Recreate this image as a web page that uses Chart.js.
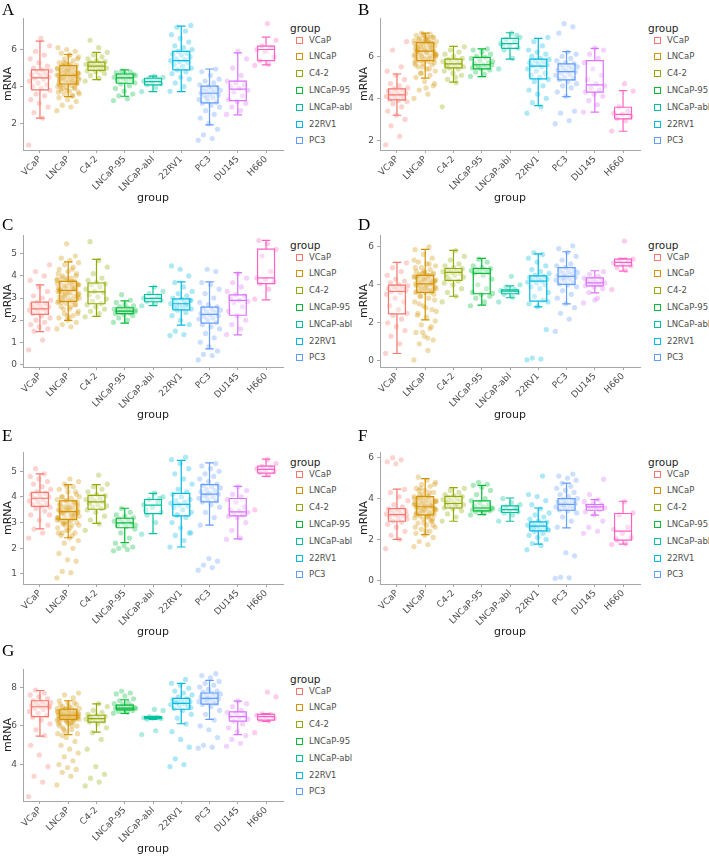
<!DOCTYPE html>
<html>
<head>
<meta charset="utf-8">
<script src="https://cdn.jsdelivr.net/npm/chart.js@4.4.0/dist/chart.umd.min.js"></script>
<style>
body{margin:0;background:#fff;width:709px;height:856px;position:relative;overflow:hidden;font-family:"DejaVu Sans",sans-serif}
.panel{position:absolute;width:354px;height:217px}
.panel canvas{position:absolute;left:0;top:0}
.letter{position:absolute;font-family:"Liberation Serif",serif;font-size:17px;line-height:1;color:#000}
.legend{position:absolute;top:0;left:0}
.legend .ttl{position:absolute;font-size:10.5px;color:#222;line-height:12px;white-space:nowrap}
.legend .item{position:absolute;font-size:8.5px;color:#4d4d4d;line-height:10px;white-space:nowrap}
.legend .sq{position:absolute;width:5px;height:5px;border:1px solid;background:#fff}
</style>
</head>
<body>
<script>
const groups = ["VCaP", "LNCaP", "C4-2", "LNCaP-95", "LNCaP-abl", "22RV1", "PC3", "DU145", "H660"];
const colors = ["#F8766D", "#D39200", "#93AA00", "#00BA38", "#00C19F", "#00B9E3", "#619CFF", "#DB72FB", "#FF61C3"];
const legendGroups = groups.slice(0, 7); // legend is cut off after PC3 in the original

// box stats per group: [lower whisker, q1, median, q3, upper whisker]
const boxA = [[2.3,3.82,4.47,4.9,6.45],[3.46,4.14,4.6,5.13,5.73],[4.38,4.87,5.1,5.32,5.85],[3.48,4.18,4.47,4.68,4.9],[3.73,4.09,4.27,4.45,4.56],[3.73,4.9,5.4,5.9,7.26],[1.93,3.12,3.64,4.02,4.95],[2.47,3.24,3.86,4.3,5.82],[5.17,5.4,6.0,6.18,6.67]];
const boxB = [[3.2,3.93,4.17,4.45,5.16],[4.96,5.8,6.25,6.65,7.1],[4.77,5.45,5.64,5.87,6.47],[5.04,5.4,5.6,5.95,6.35],[5.87,6.38,6.6,6.85,7.12],[3.66,4.93,5.53,5.87,6.85],[4.09,4.88,5.27,5.64,6.22],[3.35,4.3,4.64,5.8,6.38],[2.44,3.03,3.24,3.58,4.37]];
const boxC = [[1.48,2.26,2.51,2.81,3.59],[1.99,2.85,3.35,3.75,4.63],[2.17,2.74,3.28,3.68,4.75],[1.86,2.29,2.41,2.56,2.87],[2.66,2.83,2.98,3.16,3.52],[1.77,2.46,2.74,2.96,3.73],[0.7,1.86,2.26,2.59,3.73],[1.33,2.22,2.89,3.14,4.15],[2.92,3.65,3.91,5.21,5.61]];
const boxD = [[0.39,2.47,3.65,3.98,5.18],[2.16,3.6,4.05,4.5,5.86],[3.4,4.23,4.65,4.86,5.81],[2.93,3.53,4.6,4.86,5.39],[3.32,3.53,3.67,3.74,3.95],[2.84,3.14,4.19,4.47,5.63],[3.0,4.02,4.44,4.9,5.74],[3.58,3.95,4.1,4.37,4.74],[4.72,5.0,5.18,5.35,5.39]];
const boxE = [[2.76,3.63,3.95,4.18,4.9],[2.41,3.13,3.43,3.85,4.48],[2.97,3.52,3.81,4.06,4.48],[2.22,2.8,2.99,3.17,3.56],[2.57,3.35,3.68,3.9,4.14],[2.05,3.26,3.71,4.14,5.42],[2.9,3.81,4.11,4.48,5.33],[2.37,3.26,3.42,3.94,4.41],[4.8,4.93,5.07,5.2,5.47]];
const boxF = [[2.0,2.89,3.22,3.51,4.46],[2.24,3.2,3.6,4.1,4.98],[2.89,3.54,3.76,4.11,4.54],[3.22,3.4,3.54,3.89,4.65],[2.89,3.32,3.46,3.64,4.03],[1.77,2.42,2.65,2.86,3.54],[2.57,3.43,3.72,4.0,4.76],[3.19,3.43,3.59,3.71,3.95],[1.77,1.97,2.41,3.27,3.87]];
const boxG = [[5.47,6.48,6.99,7.3,7.83],[5.55,6.34,6.55,6.86,7.3],[5.68,6.2,6.38,6.55,7.14],[6.65,6.83,6.92,7.07,7.35],[6.33,6.38,6.43,6.48,6.5],[6.11,6.86,7.16,7.42,8.2],[6.34,7.13,7.42,7.7,8.35],[5.55,6.25,6.48,6.72,7.28],[6.23,6.3,6.48,6.6,6.63]];

// sample points (one list per group)
const ptsA = [
  [0.85,2.3,2.6,2.9,3.1,3.3,3.5,3.6,3.8,3.9,4.0,4.1,4.2,4.3,4.4,4.45,4.5,4.6,4.65,4.7,4.8,4.85,4.9,5.0,5.1,5.3,5.5,5.7,5.9,6.2,6.6],
  [2.7,2.9,3.0,3.2,3.3,3.4,3.5,3.6,3.7,3.75,3.8,3.9,3.95,4.0,4.05,4.1,4.15,4.2,4.25,4.3,4.35,4.4,4.45,4.5,4.55,4.6,4.62,4.65,4.7,4.75,4.8,4.85,4.9,4.95,5.0,5.05,5.1,5.15,5.2,5.3,5.4,5.5,5.6,5.7,5.8,5.9,6.0,6.1,4.3,4.5,4.7,4.9,4.4,4.6,4.8,3.6,5.2,3.9,4.2,5.0,
   4.15,4.25,4.35,4.45,4.55,4.65,4.75,4.85,4.95,5.05,5.12,4.2,4.3,4.4,4.5,4.6,4.7,4.8,4.9,5.0,3.8,3.7,3.5,5.3,5.5,5.7,4.05,3.95,5.25,4.62],
  [4.3,4.45,4.6,4.7,4.8,4.85,4.9,4.95,5.0,5.05,5.1,5.1,5.15,5.2,5.25,5.3,5.35,5.4,5.5,5.6,5.7,5.85,6.1,6.5],
  [3.25,3.35,3.5,3.6,3.75,3.9,4.05,4.15,4.2,4.3,4.35,4.4,4.45,4.5,4.55,4.6,4.65,4.7,4.75,4.8,4.85,4.6],
  [3.73,3.95,4.1,4.15,4.25,4.3,4.4,4.45,4.5,4.56],
  [3.75,4.0,4.2,4.4,4.5,4.7,4.8,4.9,5.0,5.1,5.2,5.3,5.35,5.4,5.45,5.5,5.6,5.7,5.75,5.8,5.9,6.0,6.1,6.2,6.4,6.6,6.8,7.0,7.2,7.3],
  [1.1,1.2,1.4,1.7,2.0,2.3,2.5,2.7,2.9,3.0,3.1,3.15,3.2,3.3,3.4,3.5,3.55,3.6,3.65,3.7,3.75,3.8,3.85,3.9,3.95,4.0,4.1,4.2,4.3,4.4,4.6,4.8,4.95,3.4],
  [2.5,2.7,2.9,3.1,3.2,3.3,3.5,3.7,3.8,3.9,4.0,4.1,4.2,4.3,4.6,5.0,5.5,5.9],
  [5.15,5.2,5.4,5.6,5.9,6.0,6.1,6.2,6.5,7.4]
];
const ptsB = [
  [1.8,2.2,2.7,3.0,3.2,3.4,3.6,3.75,3.85,3.9,3.95,4.0,4.05,4.1,4.15,4.2,4.25,4.3,4.35,4.4,4.45,4.5,4.6,4.7,4.9,5.1,5.3,5.5,6.3,6.7],
  [4.0,4.2,4.4,4.6,4.8,5.0,5.1,5.2,5.3,5.4,5.5,5.6,5.65,5.7,5.75,5.8,5.85,5.9,5.95,6.0,6.05,6.1,6.15,6.2,6.25,6.3,6.35,6.4,6.45,6.5,6.55,6.6,6.65,6.7,6.75,6.8,6.85,6.9,6.95,7.0,7.05,7.1,6.0,6.2,6.4,6.6,6.3,6.1,5.9,6.5,5.7,6.8,6.25,6.45,5.5,6.7,6.9,6.35,6.05,5.85,
   5.8,5.9,6.0,6.1,6.2,6.3,6.4,6.5,6.6,6.65,6.15,6.25,6.35,6.45,6.55,5.95,6.05,6.7,6.8,6.9,7.0,5.6,5.4,5.2,4.7,4.5,6.22,6.38,6.62,6.02],
  [3.6,4.75,4.9,5.1,5.2,5.3,5.4,5.45,5.5,5.55,5.6,5.65,5.7,5.75,5.8,5.85,5.9,6.0,6.1,6.2,6.3,6.45,5.0,5.6],
  [5.05,5.15,5.25,5.35,5.4,5.45,5.5,5.55,5.6,5.6,5.65,5.7,5.8,5.9,5.95,6.0,6.1,6.2,6.3,6.35,5.5,5.75],
  [5.4,5.9,6.3,6.4,6.5,6.6,6.7,6.8,6.9,7.1,6.55,7.0],
  [3.3,3.6,3.8,4.0,4.2,4.4,4.6,4.8,4.9,5.0,5.1,5.2,5.3,5.4,5.5,5.55,5.6,5.65,5.7,5.75,5.8,5.85,5.9,6.0,6.1,6.2,6.3,6.5,6.7,6.9],
  [2.8,2.95,3.3,3.4,4.1,4.3,4.5,4.6,4.7,4.8,4.9,4.95,5.0,5.1,5.15,5.2,5.25,5.3,5.35,5.4,5.45,5.5,5.55,5.6,5.65,5.7,5.8,5.9,6.0,6.1,6.2,7.1,7.4,7.55],
  [3.35,3.7,3.9,4.1,4.2,4.3,4.4,4.5,4.6,4.7,4.9,5.1,5.4,5.7,5.9,6.1,6.3,6.4],
  [2.45,2.95,3.05,3.15,3.25,3.3,3.4,3.6,4.35,4.7]
];
const ptsC = [
  [0.65,1.1,1.5,1.6,1.7,1.8,1.9,2.0,2.1,2.2,2.3,2.35,2.4,2.45,2.5,2.55,2.6,2.65,2.7,2.75,2.8,2.9,3.0,3.1,3.3,3.5,3.8,4.0,4.2,4.5],
  [1.6,1.7,1.8,1.9,2.0,2.1,2.2,2.3,2.4,2.5,2.6,2.7,2.75,2.8,2.85,2.9,2.95,3.0,3.05,3.1,3.15,3.2,3.25,3.3,3.35,3.4,3.45,3.5,3.55,3.6,3.65,3.7,3.75,3.8,3.85,3.9,4.0,4.1,4.2,4.3,4.4,4.5,4.6,4.7,4.8,4.9,5.45,3.3,3.5,3.1,3.6,2.9,3.4,3.7,3.2,3.0,2.6,3.9,4.0,2.2,
   2.85,2.95,3.05,3.15,3.25,3.35,3.45,3.55,3.65,3.75,3.0,3.1,3.2,3.3,3.4,3.5,3.6,3.7,2.8,2.7,3.9,4.1,4.3,2.5,2.3,2.1,3.35,3.45,3.25,3.8],
  [2.15,2.3,2.4,2.5,2.6,2.7,2.75,2.85,2.95,3.05,3.15,3.25,3.3,3.4,3.5,3.6,3.65,3.7,3.8,3.9,4.1,4.4,4.7,5.55],
  [1.9,2.0,2.1,2.2,2.25,2.3,2.32,2.35,2.38,2.4,2.42,2.45,2.48,2.5,2.55,2.6,2.65,2.7,2.8,2.9,3.15,2.45],
  [2.65,2.75,2.85,2.9,2.95,3.0,3.1,3.2,3.3,3.5],
  [1.3,1.35,1.5,1.8,2.0,2.2,2.35,2.45,2.5,2.55,2.6,2.65,2.7,2.75,2.8,2.85,2.9,2.95,3.0,3.1,3.2,3.3,3.5,3.7,4.0,4.3,4.45,2.7,2.6,2.9],
  [0.2,0.4,0.45,0.6,0.8,1.0,1.2,1.4,1.6,1.7,1.8,1.9,2.0,2.05,2.1,2.15,2.2,2.25,2.3,2.35,2.4,2.45,2.5,2.55,2.6,2.7,2.8,3.0,3.2,3.4,3.6,3.7,4.2,4.3],
  [1.35,1.6,1.8,2.0,2.2,2.4,2.6,2.8,2.85,2.9,3.0,3.1,3.15,3.3,3.5,3.7,3.9,4.1],
  [2.95,3.4,3.65,3.75,3.85,3.9,4.2,4.9,5.2,5.45,5.6]
];
const ptsD = [
  [0.4,0.9,1.3,1.6,1.8,2.0,2.2,2.4,2.5,2.7,2.9,3.1,3.3,3.5,3.6,3.65,3.7,3.75,3.8,3.85,3.9,3.95,4.0,4.1,4.2,4.3,4.5,4.7,4.9,5.15],
  [0.05,0.55,0.9,1.1,1.3,1.5,1.7,1.9,2.1,2.3,2.5,2.7,2.9,3.1,3.3,3.4,3.5,3.6,3.65,3.7,3.75,3.8,3.85,3.9,3.95,4.0,4.05,4.1,4.15,4.2,4.25,4.3,4.35,4.4,4.45,4.5,4.55,4.6,4.65,4.7,4.8,4.9,5.0,5.1,5.2,5.4,5.6,5.85,6.0,4.0,4.2,3.8,4.4,3.6,4.6,2.6,1.2,3.0,4.1,4.3,
   3.6,3.7,3.8,3.9,4.0,4.1,4.2,4.3,4.4,4.5,3.65,3.75,3.85,3.95,4.05,4.15,4.25,4.35,4.45,4.55,4.7,4.9,5.1,3.4,3.2,2.8,2.4,1.8,1.5,5.3],
  [3.1,3.4,3.6,3.8,4.0,4.1,4.2,4.3,4.4,4.5,4.55,4.6,4.65,4.7,4.75,4.8,4.85,4.9,5.0,5.1,5.3,5.5,5.8,4.4],
  [2.9,3.1,3.3,3.4,3.5,3.6,3.8,4.0,4.3,4.5,4.6,4.65,4.7,4.75,4.8,4.82,4.85,4.9,5.0,5.2,5.35,3.55],
  [3.1,3.35,3.5,3.6,3.65,3.7,3.75,3.9,4.0,4.45],
  [0.05,0.1,0.15,1.65,2.85,3.0,3.2,3.4,3.6,3.8,3.9,4.0,4.1,4.15,4.2,4.25,4.3,4.35,4.4,4.45,4.5,4.6,4.7,4.8,5.0,5.2,5.4,5.6,5.7,3.1],
  [1.55,2.2,2.5,2.8,3.0,3.3,3.5,3.7,3.9,4.0,4.05,4.1,4.2,4.25,4.3,4.35,4.4,4.45,4.5,4.55,4.6,4.65,4.7,4.75,4.8,4.9,5.0,5.1,5.3,5.5,5.7,5.9,6.05,4.4],
  [3.05,3.3,3.6,3.8,3.9,3.95,4.0,4.05,4.1,4.15,4.2,4.25,4.3,4.35,4.45,4.55,4.7,3.2],
  [3.75,4.75,4.9,5.0,5.1,5.15,5.2,5.3,5.35,6.3]
];
const ptsE = [
  [2.4,2.6,2.75,2.9,3.1,3.3,3.45,3.55,3.6,3.65,3.7,3.75,3.8,3.85,3.9,3.95,4.0,4.05,4.1,4.15,4.2,4.3,4.4,4.5,4.6,4.7,4.8,4.9,5.1,3.3],
  [0.85,1.05,1.1,1.5,1.55,1.8,2.0,2.2,2.3,2.4,2.5,2.6,2.7,2.8,2.9,2.95,3.0,3.05,3.1,3.15,3.2,3.25,3.3,3.35,3.4,3.45,3.5,3.55,3.6,3.65,3.7,3.75,3.8,3.85,3.9,3.95,4.0,4.1,4.2,4.3,4.4,4.5,4.6,4.7,3.4,3.3,3.5,3.2,3.6,3.0,3.8,2.7,3.45,3.35,2.9,4.0,3.1,2.6,3.7,3.55,
   3.15,3.25,3.35,3.45,3.55,3.65,3.75,3.85,3.2,3.3,3.4,3.5,3.6,3.7,3.8,3.0,2.9,2.8,4.0,4.2,4.4,2.6,2.5,3.42,3.38,3.48,3.52,3.28,3.62,3.1],
  [2.7,2.95,3.1,3.25,3.4,3.5,3.55,3.6,3.65,3.7,3.75,3.8,3.85,3.9,3.95,4.0,4.05,4.1,4.2,4.3,4.4,4.5,4.85,3.8],
  [1.9,1.95,2.0,2.05,2.1,2.2,2.4,2.6,2.75,2.85,2.9,2.95,3.0,3.05,3.1,3.15,3.2,3.25,3.3,3.4,3.55,2.9],
  [2.55,3.0,3.3,3.4,3.6,3.7,3.8,3.9,4.0,4.15,3.5,3.95],
  [2.05,2.3,2.5,2.6,2.8,3.0,3.2,3.3,3.4,3.5,3.6,3.65,3.7,3.75,3.8,3.85,3.9,4.0,4.1,4.2,4.3,4.5,4.7,4.9,5.1,5.3,5.45,5.55,3.3,2.6],
  [1.15,1.25,1.35,1.5,1.6,2.9,3.2,3.4,3.6,3.7,3.8,3.85,3.9,3.95,4.0,4.05,4.1,4.15,4.2,4.25,4.3,4.35,4.4,4.45,4.5,4.6,4.7,4.8,4.9,5.0,5.1,5.2,5.3,4.1],
  [2.35,2.4,2.7,3.0,3.2,3.25,3.3,3.35,3.4,3.45,3.5,3.6,3.8,3.9,4.0,4.1,4.25,4.4],
  [3.5,4.85,4.95,5.0,5.05,5.1,5.15,5.2,5.3,5.45]
];
const ptsF = [
  [1.55,2.0,2.2,2.4,2.6,2.75,2.85,2.9,3.0,3.05,3.1,3.15,3.2,3.25,3.3,3.35,3.4,3.45,3.5,3.6,3.7,3.9,4.1,4.3,4.45,5.7,5.8,5.9,6.0,3.2],
  [1.65,1.75,1.9,2.1,2.2,2.3,2.4,2.5,2.6,2.7,2.8,2.9,3.0,3.05,3.1,3.15,3.2,3.25,3.3,3.35,3.4,3.45,3.5,3.55,3.6,3.65,3.7,3.75,3.8,3.85,3.9,3.95,4.0,4.05,4.1,4.15,4.2,4.3,4.4,4.5,4.6,4.7,4.8,4.9,5.05,3.6,3.4,3.8,3.2,4.0,3.5,3.7,3.3,2.9,4.2,3.9,3.1,4.4,2.7,3.6,
   3.2,3.3,3.4,3.5,3.6,3.7,3.8,3.9,4.0,4.1,3.25,3.35,3.45,3.55,3.65,3.75,3.85,3.95,4.05,3.0,2.8,2.6,4.3,4.5,4.7,2.4,3.58,3.62,3.48,3.72],
  [2.9,3.1,3.25,3.4,3.5,3.55,3.6,3.65,3.7,3.75,3.8,3.85,3.9,3.95,4.0,4.05,4.1,4.15,4.2,4.3,4.4,4.5,3.7,3.8],
  [3.2,3.3,3.35,3.4,3.42,3.45,3.48,3.5,3.55,3.6,3.65,3.7,3.8,3.9,4.0,4.2,4.4,4.55,4.65,4.7,4.8,3.5],
  [2.9,3.2,3.3,3.35,3.4,3.45,3.5,3.6,3.7,3.8,4.0,3.55],
  [1.5,1.7,1.8,2.0,2.1,2.2,2.3,2.4,2.45,2.5,2.55,2.6,2.65,2.7,2.75,2.8,2.85,2.9,3.0,3.1,3.2,3.3,3.5,3.7,3.9,4.1,4.2,5.1,2.6,2.5],
  [0.1,0.12,0.15,1.2,1.35,2.6,2.9,3.1,3.3,3.4,3.45,3.5,3.55,3.6,3.65,3.7,3.75,3.8,3.85,3.9,3.95,4.0,4.1,4.2,4.3,4.4,4.5,4.6,4.75,4.9,5.0,5.1,5.2,3.7],
  [2.3,2.4,2.6,2.9,3.2,3.35,3.45,3.5,3.55,3.6,3.65,3.7,3.75,3.85,3.95,4.2,4.95,3.6],
  [1.75,1.8,1.95,2.1,2.3,2.5,2.6,3.2,3.3,3.85,2.05]
];
const ptsG = [
  [2.35,3.1,3.4,3.9,4.5,5.0,5.5,5.8,6.1,6.3,6.45,6.55,6.65,6.75,6.85,6.9,6.95,7.0,7.05,7.1,7.15,7.2,7.25,7.3,7.4,7.5,7.6,7.7,7.85,7.0],
  [2.95,3.4,3.6,3.75,3.85,4.0,4.2,4.4,4.6,4.8,5.0,5.2,5.4,5.6,5.8,5.9,6.0,6.1,6.2,6.25,6.3,6.35,6.4,6.45,6.5,6.52,6.55,6.58,6.6,6.65,6.7,6.75,6.8,6.85,6.9,6.95,7.0,7.1,7.2,7.3,7.45,7.6,7.7,6.5,6.4,6.6,6.3,6.7,6.2,6.55,6.45,6.8,6.0,6.35,5.7,6.9,6.15,5.5,6.6,6.5,
   6.35,6.4,6.45,6.5,6.55,6.6,6.65,6.7,6.75,6.8,6.85,6.38,6.42,6.48,6.52,6.58,6.62,6.68,6.72,6.78,6.2,6.1,6.0,5.8,5.6,7.0,7.1,7.2,6.9,6.3],
  [2.9,3.1,3.3,3.5,3.9,4.8,5.3,5.65,5.9,6.1,6.2,6.25,6.3,6.35,6.4,6.45,6.5,6.55,6.6,6.7,6.8,7.0,7.15,6.4],
  [6.65,6.7,6.75,6.8,6.85,6.88,6.9,6.92,6.95,6.98,7.0,7.05,7.1,7.15,7.2,7.3,7.4,7.55,7.65,7.7,7.8,6.9],
  [5.55,5.75,6.35,6.38,6.4,6.42,6.45,6.48,6.8,6.85],
  [3.9,4.0,4.3,4.9,5.3,5.7,6.1,6.4,6.6,6.8,6.9,7.0,7.05,7.1,7.15,7.2,7.25,7.3,7.35,7.4,7.5,7.6,7.7,7.8,7.95,8.1,8.2,8.4,7.2,6.95],
  [4.85,4.9,5.0,5.4,5.8,6.0,6.3,6.6,6.8,7.0,7.1,7.15,7.2,7.25,7.3,7.35,7.4,7.45,7.5,7.55,7.6,7.65,7.7,7.75,7.8,7.9,8.0,8.1,8.2,8.3,8.5,8.6,8.7,7.4],
  [4.95,5.1,5.3,5.5,5.7,5.9,6.1,6.25,6.35,6.45,6.5,6.55,6.65,6.7,6.8,7.0,7.15,7.3],
  [5.65,6.25,6.3,6.4,6.5,6.55,6.6,6.62,7.5,7.75]
];

// y axis ticks and limits
const ticksA = [2, 4, 6], rangeA = [0.58, 7.7];
const ticksB = [2, 4, 6], rangeB = [1.55, 7.82];
const ticksC = [0, 1, 2, 3, 4, 5], rangeC = [-0.12, 5.85];
const ticksD = [0, 2, 4, 6], rangeD = [-0.32, 6.62];
const ticksE = [1, 2, 3, 4, 5], rangeE = [0.61, 5.75];
const ticksF = [0, 2, 4, 6], rangeF = [-0.18, 6.28];
const ticksG = [4, 6, 8], rangeG = [2.12, 8.94];

const panels = [
  {name: "A", box: boxA, pts: ptsA, ticks: ticksA, range: rangeA, col: 0, row: 0},
  {name: "B", box: boxB, pts: ptsB, ticks: ticksB, range: rangeB, col: 1, row: 0},
  {name: "C", box: boxC, pts: ptsC, ticks: ticksC, range: rangeC, col: 0, row: 1},
  {name: "D", box: boxD, pts: ptsD, ticks: ticksD, range: rangeD, col: 1, row: 1},
  {name: "E", box: boxE, pts: ptsE, ticks: ticksE, range: rangeE, col: 0, row: 2},
  {name: "F", box: boxF, pts: ptsF, ticks: ticksF, range: rangeF, col: 1, row: 2},
  {name: "G", box: boxG, pts: ptsG, ticks: ticksG, range: rangeG, col: 0, row: 3}
];

const letterTops = [1, 216, 427, 642];
const colLeft = [0, 356];
const yAxisW = [23, 24];
const plotRight = [283, 286];
const CW = 288, CH = 217;

Chart.defaults.font.family = "'DejaVu Sans', sans-serif";

function rgba(hex, a) {
  const n = parseInt(hex.slice(1), 16);
  return `rgba(${n >> 16},${(n >> 8) & 255},${n & 255},${a})`;
}
// horizontal jitter, like geom_jitter(width = 0.4)
const jit = (k) => (((k * 0.6180339887) % 1) - 0.5) * 0.8;

panels.forEach((p) => {
  const wrap = document.createElement("div");
  wrap.className = "panel";
  wrap.style.left = colLeft[p.col] + "px";
  wrap.style.top = (p.row * 217) + "px";
  document.body.appendChild(wrap);

  const letter = document.createElement("div");
  letter.className = "letter";
  letter.textContent = p.name;
  letter.style.left = (colLeft[p.col] + 2) + "px";
  letter.style.top = letterTops[p.row] + "px";
  document.body.appendChild(letter);

  const canvas = document.createElement("canvas");
  canvas.width = CW;
  canvas.height = CH;
  wrap.appendChild(canvas);

  // legend
  const leg = document.createElement("div");
  leg.className = "legend";
  const lx = p.col ? 292 : 290;
  let html = `<div class="ttl" style="left:${lx}px;top:22px">group</div>`;
  legendGroups.forEach((g, i) => {
    const cy = 40 + i * 16.8;
    html += `<div class="sq" style="left:${lx + 6}px;top:${cy - 3.5}px;border-color:${colors[i]}"></div>`;
    html += `<div class="item" style="left:${lx + 19}px;top:${cy - 5.5}px">${g}</div>`;
  });
  leg.innerHTML = html;
  wrap.appendChild(leg);

  const datasets = [];
  groups.forEach((g, i) => {
    const [lo, q1, med, q3, hi] = p.box[i];
    datasets.push({
      data: p.pts[i].map((v, k) => ({x: i + jit(k), y: v})),
      showLine: false,
      pointRadius: 2.6,
      pointBackgroundColor: rgba(colors[i], 0.32),
      pointBorderWidth: 0,
      order: 3
    });
    datasets.push({
      data: [{x: i - 0.3, y: q1}, {x: i + 0.3, y: q1}, {x: i + 0.3, y: q3}, {x: i - 0.3, y: q3}, {x: i - 0.3, y: q1}],
      borderColor: colors[i],
      borderWidth: 1.2,
      backgroundColor: "rgba(255,255,255,0.3)",
      fill: "shape",
      pointRadius: 0,
      order: 2
    });
    datasets.push({
      data: [
        {x: i - 0.15, y: lo}, {x: i + 0.15, y: lo}, {x: i, y: null},
        {x: i, y: lo}, {x: i, y: q1}, {x: i, y: null},
        {x: i, y: q3}, {x: i, y: hi}, {x: i, y: null},
        {x: i - 0.15, y: hi}, {x: i + 0.15, y: hi}, {x: i, y: null},
        {x: i - 0.3, y: med}, {x: i + 0.3, y: med}
      ],
      borderColor: colors[i],
      borderWidth: 1.2,
      fill: false,
      pointRadius: 0,
      order: 1
    });
  });

  new Chart(canvas, {
    type: "line",
    data: {datasets: datasets},
    options: {
      responsive: false,
      animation: false,
      devicePixelRatio: 1,
      events: [],
      layout: {padding: {left: 0, right: CW - plotRight[p.col], top: 18, bottom: 12}},
      plugins: {legend: {display: false}, tooltip: {enabled: false}},
      scales: {
        x: {
          type: "linear",
          min: -0.6,
          max: 8.6,
          afterBuildTicks: (s) => { s.ticks = groups.map((g, i) => ({value: i})); },
          afterFit: (s) => { s.height = 55; },
          grid: {drawOnChartArea: false, drawTicks: true, tickLength: 3, color: "#a6a6a6"},
          border: {display: true, color: "#a6a6a6", width: 1},
          ticks: {
            autoSkip: false, minRotation: 45, maxRotation: 45, padding: 1,
            color: "#4d4d4d", font: {size: 9},
            callback: (v) => groups[v]
          },
          title: {display: true, text: "group", color: "#222", font: {size: 11}, padding: {top: 0, bottom: 0}}
        },
        y: {
          min: p.range[0],
          max: p.range[1],
          afterBuildTicks: (s) => { s.ticks = p.ticks.map((v) => ({value: v})); },
          afterFit: (s) => { s.width = yAxisW[p.col]; },
          grid: {drawOnChartArea: false, drawTicks: true, tickLength: 3, color: "#a6a6a6"},
          border: {display: true, color: "#a6a6a6", width: 1},
          ticks: {color: "#4d4d4d", font: {size: 9}, padding: 3},
          title: {display: true, text: "mRNA", color: "#222", font: {size: 11}, padding: {top: 2, bottom: 0}}
        }
      }
    }
  });
});
</script>
</body>
</html>
